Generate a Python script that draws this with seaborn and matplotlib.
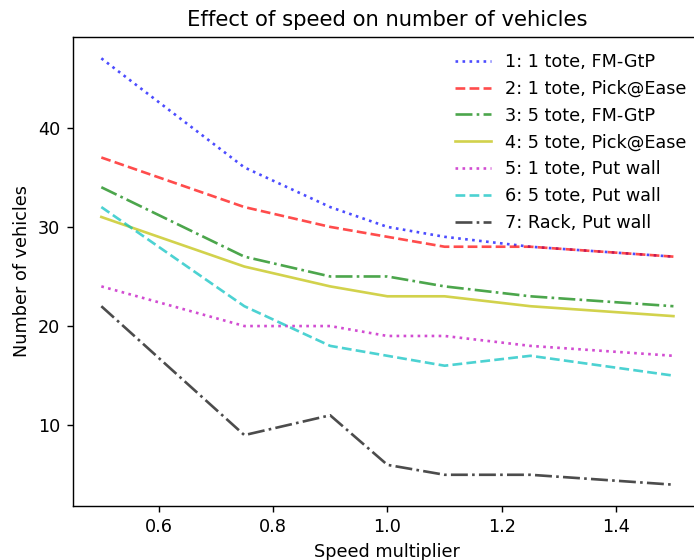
import numpy as np
import matplotlib
matplotlib.use("Agg")
import matplotlib.pyplot as plt
import seaborn as sns

speed = [0.5, 0.75, 0.9, 1.0, 1.1, 1.25, 1.5]

labels = ["1: 1 tote, FM-GtP", "2: 1 tote, Pick@Ease", "3: 5 tote, FM-GtP",
          "4: 5 tote, Pick@Ease", "5: 1 tote, Put wall", "6: 5 tote, Put wall",
          "7: Rack, Put wall"]

s1 = [47, 36, 32, 30, 29, 28, 27]
s2 = [37, 32, 30, 29, 28, 28, 27]
s3 = [34, 27, 25, 25, 24, 23, 22]
s4 = [31, 26, 24, 23, 23, 22, 21]
s5 = [24, 20, 20, 19, 19, 18, 17]
s6 = [32, 22, 18, 17, 16, 17, 15]
s7 = [22, 9, 11, 6, 5, 5, 4]

series = [s1, s2, s3, s4, s5, s6, s7]
colors = ["b", "r", "g", "y", "m", "c", "k"]
styles = [":", "--", "-.", "-", ":", "--", "-."]

# the reference looks like a bigger-dpi render, cropped on the right/bottom
dpi = 127
fig = plt.figure(figsize=(694 / dpi, 560 / dpi), dpi=dpi)
ax = fig.add_axes([0.1048, 0.0964, 0.9068, 0.8375])

for vals, lab, c, ls in zip(series, labels, colors, styles):
    sns.lineplot(x=speed, y=vals, color=c, linestyle=ls, alpha=0.7, label=lab, ax=ax)

ax.set_title("Effect of speed on number of vehicles")
ax.set_xlabel("Speed multiplier")
ax.set_ylabel("Number of vehicles")
ax.legend(loc="upper right", frameon=False)

fig.savefig("out.png", dpi=dpi)
